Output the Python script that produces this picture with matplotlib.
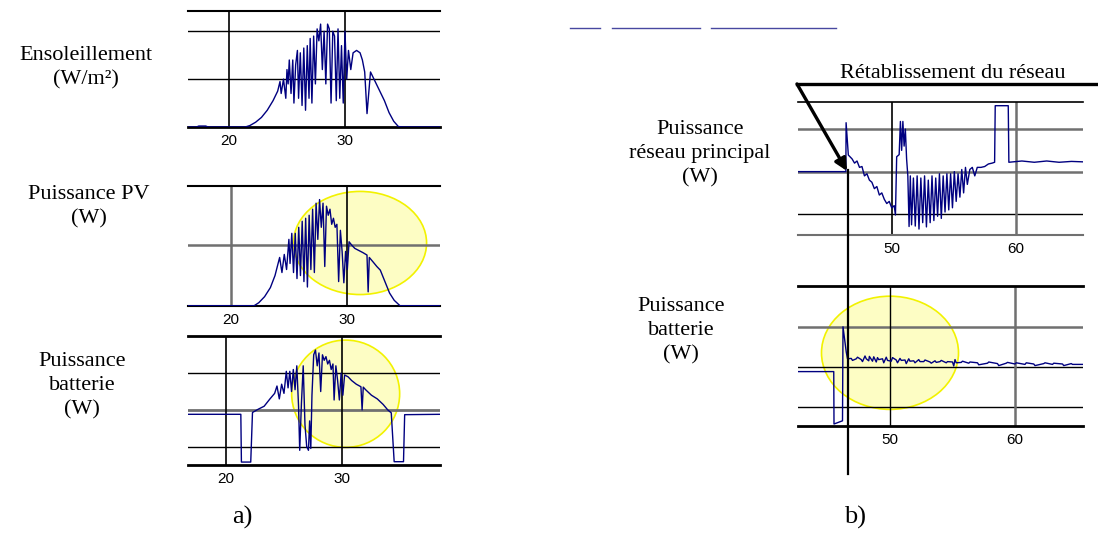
import numpy as np
import matplotlib
matplotlib.use('Agg')
import matplotlib.pyplot as plt
from matplotlib.patches import Ellipse, FancyArrowPatch
from matplotlib.lines import Line2D

W, H = 1098, 533

# ---- a) irradiance (grid units, 1 unit per grid line)
t_sun = [16.5, 17.2, 17.4, 18.0, 18.2, 21.4, 21.8, 22.3, 22.8, 23.3, 23.8, 24.2, 24.4, 24.5, 24.7,
         24.9, 25.0, 25.1, 25.2, 25.35, 25.5, 25.6, 25.75, 25.9, 26.0, 26.15, 26.3, 26.45, 26.6,
         26.75, 26.9, 27.0, 27.15, 27.3, 27.45, 27.6, 27.75, 27.9, 28.05, 28.2, 28.35, 28.5, 28.65,
         28.8, 28.95, 29.1, 29.25, 29.4, 29.55, 29.7, 29.85, 30.0, 30.15, 30.3, 30.5, 30.7, 31.0,
         31.3, 31.5, 31.7, 31.9, 32.2, 32.6, 33.0, 33.4, 33.8, 34.2, 34.6, 35.0, 38.2]
v_sun = [0, 0, 0.02, 0.02, 0, 0, 0.03, 0.1, 0.2, 0.35, 0.55, 0.75, 0.95, 0.7, 1.0,
         0.6, 1.2, 0.9, 1.4, 0.7, 1.4, 0.5, 1.3, 1.6, 0.6, 1.55, 0.45, 1.65, 0.35,
         1.7, 0.6, 1.85, 0.5, 1.9, 0.9, 2.05, 1.8, 2.15, 1.2, 2.0, 0.9, 2.15, 2.05,
         0.5, 2.0, 1.9, 0.55, 2.05, 0.6, 1.7, 0.5, 2.0, 1.0, 1.6, 1.2, 1.55, 1.6,
         1.55, 1.4, 1.15, 0.28, 1.15, 0.95, 0.75, 0.55, 0.3, 0.12, 0.01, 0, 0]

# ---- a) PV power
t_pv = [16.3, 22.0, 22.4, 22.9, 23.4, 23.8, 24.2, 24.4, 24.6, 24.8, 25.0, 25.1, 25.25, 25.4, 25.55,
        25.7, 25.85, 26.0, 26.15, 26.3, 26.45, 26.6, 26.75, 26.9, 27.05, 27.2, 27.35, 27.5, 27.65,
        27.8, 27.95, 28.1, 28.25, 28.4, 28.55, 28.7, 28.85, 29.0, 29.15, 29.3, 29.45, 29.6, 29.75,
        29.9, 30.05, 30.2, 30.45, 30.7, 31.0, 31.4, 31.75, 31.85, 31.95, 32.3, 32.6, 32.9, 33.3,
        33.7, 34.1, 34.6, 38.1]
v_pv = [0, 0, 0.05, 0.15, 0.3, 0.5, 0.8, 0.55, 0.85, 0.6, 1.1, 0.7, 1.2, 0.55, 1.2,
        0.45, 1.3, 0.5, 1.4, 0.4, 1.45, 0.31, 1.5, 0.6, 1.6, 0.55, 1.7, 1.1, 1.76,
        1.3, 1.7, 0.65, 1.65, 1.5, 1.6, 1.35, 1.45, 1.3, 1.35, 0.4, 1.25, 0.9, 0.38,
        0.9, 0.6, 1.06, 1.0, 0.95, 0.92, 0.88, 0.84, 0.23, 0.8, 0.72, 0.65, 0.59, 0.4,
        0.21, 0.09, 0, 0]

# ---- a) battery power (0 = grey grid line)
t_bat_a = [16.8, 21.3, 21.35, 22.15, 22.3, 22.8, 23.3, 23.8, 24.2, 24.4, 24.6, 24.8, 25.0, 25.2,
           25.35, 25.5, 25.65, 25.8, 25.95, 26.1, 26.25, 26.35, 26.5, 26.65, 26.8, 26.95, 27.1,
           27.2, 27.3, 27.4, 27.55, 27.7, 27.85, 28.0, 28.15, 28.3, 28.45, 28.6, 28.75, 28.9,
           29.05, 29.2, 29.3, 29.45, 29.6, 29.75, 29.9, 30.05, 30.2, 30.5, 30.8, 31.2, 31.6,
           31.7, 31.8, 32.0, 32.5, 33.0, 33.5, 33.9, 34.2, 34.45, 35.25, 35.35, 38.4]
v_bat_a = [-0.12, -0.12, -1.42, -1.42, -0.07, 0.02, 0.1, 0.3, 0.45, 0.65, 0.3, 0.7, 0.45, 1.05,
           0.6, 1.05, 0.5, 1.1, 0.55, 1.2, 0.1, -1.1, 0.2, 1.2, -0.4, -1.0, -1.1,
           -0.3, -1.05, 0.4, 1.5, 1.63, 1.2, 1.55, 0.5, 1.5, 1.35, 1.45, 1.25, 1.35,
           1.1, 1.25, 0.27, 1.2, 0.8, 0.27, 1.0, 0.4, 0.95, 0.9, 0.8, 0.7, 0.63,
           0.0, 0.62, 0.55, 0.4, 0.3, 0.15, 0.0, -0.08, -1.41, -1.41, -0.13, -0.12]

# ---- b) main grid power
t_grid = [42.4, 46.3, 46.32, 46.5, 46.8, 47.0, 47.2, 47.4, 47.6, 47.8, 48.0, 48.2, 48.4, 48.6,
          48.8, 49.0, 49.2, 49.4, 49.6, 49.8, 50.0, 50.2, 50.3, 50.4, 50.6, 50.7, 50.8, 50.9,
          51.0, 51.1, 51.2, 51.3, 51.4, 51.5, 51.6, 51.75, 51.9, 52.05, 52.2, 52.35, 52.5,
          52.65, 52.8, 52.95, 53.1, 53.25, 53.4, 53.55, 53.7, 53.85, 54.0, 54.15, 54.3, 54.45,
          54.6, 54.75, 54.9, 55.05, 55.2, 55.35, 55.5, 55.65, 55.8, 55.95, 56.1, 56.3, 56.5,
          56.7, 56.9, 57.2, 57.5, 57.8, 58.1, 58.3, 58.35, 59.4, 59.45, 60.5, 61.5, 62.5, 63.5,
          64.5, 65.4]
v_grid = [0, 0, 1.15, 0.39, 0.3, 0.2, 0.25, 0.1, 0.12, -0.1, -0.05, -0.2, -0.25, -0.4,
          -0.35, -0.55, -0.5, -0.65, -0.75, -0.7, -0.85, -0.8, -1.02, 0.35, 0.4, 1.18, 0.5, 1.18,
          0.6, 1.0, 0.3, -0.1, -1.29, -0.1, -1.25, -0.15, -1.28, -0.1, -1.35, -0.15, -1.2,
          -0.1, -1.3, -0.2, -1.2, -0.1, -1.15, -0.15, -1.05, -0.05, -1.1, -0.1, -0.95, -0.05,
          -0.9, -0.05, -0.85, 0.0, -0.7, -0.05, -0.6, 0.05, -0.5, 0.1, -0.3, 0.05, 0.1,
          -0.1, 0.1, 0.1, 0.12, 0.18, 0.2, 0.22, 1.55, 1.55, 0.22, 0.25, 0.22, 0.25, 0.22,
          0.24, 0.23]

# ---- b) battery power
t_bat_b = [42.6, 45.5, 45.52, 46.2, 46.24, 46.5, 46.6, 46.9, 47.0, 47.3, 47.4, 47.7, 47.8, 48.0,
           48.1, 48.3, 48.35, 48.6, 48.7, 48.9, 49.0, 49.1, 49.4, 49.5, 49.7, 49.8, 50.1, 50.2,
           50.5, 50.6, 50.8, 50.9, 51.2, 51.3, 51.5, 51.6, 51.9, 52.0, 52.3, 52.4, 52.7, 52.8,
           53.2, 53.3, 53.6, 53.7, 54.0, 54.1, 54.5, 54.6, 55.0, 55.1, 55.2, 55.3, 55.7, 55.8,
           56.3, 56.4, 57.0, 57.1, 57.8, 57.9, 58.6, 58.7, 59.3, 59.4, 60.0, 60.1, 60.8, 60.9,
           61.5, 61.6, 62.3, 62.4, 63.0, 63.1, 63.8, 63.9, 64.5, 64.6, 65.4]
v_bat_b = [-0.12, -0.12, -1.43, -1.35, 1.0, 0.37, 0.2, 0.21, 0.16, 0.2, 0.24, 0.18, 0.13, 0.27,
           0.2, 0.15, 0.26, 0.14, 0.25, 0.12, 0.23, 0.18, 0.2, 0.1, 0.24, 0.16, 0.14, 0.23,
           0.17, 0.1, 0.21, 0.16, 0.17, 0.08, 0.2, 0.14, 0.15, 0.1, 0.18, 0.13, 0.13, 0.17,
           0.12, 0.09, 0.15, 0.11, 0.13, 0.16, 0.1, 0.13, 0.12, 0.02, 0.18, 0.1, 0.11, 0.14,
           0.09, 0.12, 0.1, 0.05, 0.09, 0.12, 0.08, 0.03, 0.09, 0.11, 0.07, 0.1, 0.06, 0.1,
           0.07, 0.03, 0.08, 0.1, 0.06, 0.09, 0.07, 0.03, 0.08, 0.06, 0.06]

xticks_a = [20, 30]
xticks_b = [50, 60]

NAVY = '#000080'
GREY = '#707070'
YEL_FACE = '#fdfdc4'
YEL_EDGE = '#f2f200'

fig = plt.figure(figsize=(W / 100, H / 100), dpi=100)


def rect(l, t, r, b):
    return [l / W, 1 - b / H, (r - l) / W, (b - t) / H]


def panel(r, xlim, ylim, hl, vl, top, bot):
    ax = fig.add_axes(rect(*r))
    ax.set_xlim(*xlim)
    ax.set_ylim(*ylim)
    for s in ['left', 'right']:
        ax.spines[s].set_visible(False)
    ax.spines['top'].set_color(top[0])
    ax.spines['top'].set_linewidth(top[1])
    ax.spines['bottom'].set_color(bot[0])
    ax.spines['bottom'].set_linewidth(bot[1])
    for y, c, lw in hl:
        ax.axhline(y, color=c, lw=lw, zorder=2)
    for x, c, lw in vl:
        ax.axvline(x, color=c, lw=lw, zorder=2)
    ax.set_yticks([])
    ax.set_xticks([v[0] for v in vl])
    ax.tick_params(axis='x', length=0, pad=5)
    for lab in ax.get_xticklabels():
        lab.set_fontfamily('Liberation Sans')
        lab.set_fontsize(11)
    return ax


# a) panels
ax1 = panel((188, 10.7, 440, 127), (16.47, 38.19), (0, 2.43),
            [(1, 'black', 1.0), (2, 'black', 1.0)],
            [(xticks_a[0], 'black', 1.2), (xticks_a[1], 'black', 1.2)],
            ('black', 1.5), ('black', 2.0))
ax1.plot(t_sun, v_sun, color=NAVY, lw=1.0, zorder=4)

ax2 = panel((188, 185.7, 440, 305.7), (16.28, 38.06), (0, 1.99),
            [(1, GREY, 1.8)],
            [(xticks_a[0], GREY, 1.8), (xticks_a[1], 'black', 1.2)],
            ('black', 1.5), ('black', 1.5))
ax2.add_patch(Ellipse((31.15, 1.04), 11.5, 1.71, facecolor=YEL_FACE, edgecolor=YEL_EDGE, lw=1.2, zorder=1))
ax2.plot(t_pv, v_pv, color=NAVY, lw=1.0, zorder=4)

ax3 = panel((188, 335.7, 440, 465), (16.77, 38.38), (-1.5, 2.02),
            [(1, 'black', 1.0), (0, GREY, 2.0), (-1, 'black', 1.0)],
            [(xticks_a[0], 'black', 1.2), (xticks_a[1], 'black', 1.2)],
            ('black', 2.0), ('black', 2.0))
ax3.add_patch(Ellipse((30.29, 0.44), 9.26, 2.92, facecolor=YEL_FACE, edgecolor=YEL_EDGE, lw=1.2, zorder=1))
ax3.plot(t_bat_a, v_bat_a, color=NAVY, lw=1.0, zorder=4)

# b) panels
ax4 = panel((798, 102.3, 1083, 235), (42.44, 65.43), (-1.49, 1.63),
            [(1, GREY, 1.8), (0, GREY, 1.8), (-1, 'black', 1.0)],
            [(xticks_b[0], 'black', 1.2), (xticks_b[1], GREY, 1.8)],
            ('black', 1.2), (GREY, 1.5))
ax4.plot(t_grid, v_grid, color=NAVY, lw=1.0, zorder=4)

ax5 = panel((798, 286, 1083, 426), (42.64, 65.44), (-1.48, 2.02),
            [(1, GREY, 1.8), (0, 'black', 1.0), (-1, 'black', 1.0)],
            [(xticks_b[0], 'black', 1.0), (xticks_b[1], GREY, 1.8)],
            ('black', 2.0), ('black', 2.0))
ax5.add_patch(Ellipse((50.0, 0.35), 10.96, 2.83, facecolor=YEL_FACE, edgecolor=YEL_EDGE, lw=1.2, zorder=1))
ax5.plot(t_bat_b, v_bat_b, color=NAVY, lw=1.0, zorder=4)


def fx(p):
    return p / W


def fy(p):
    return 1 - p / H


# labels
serif = dict(fontfamily='Liberation Serif', fontsize=16, ha='center', va='center',
             linespacing=1.35, transform=fig.transFigure)
fig.text(fx(86), fy(68), 'Ensoleillement\n(W/m²)', **serif)
fig.text(fx(89), fy(207), 'Puissance PV\n(W)', **serif)
fig.text(fx(82), fy(386), 'Puissance\nbatterie\n(W)', **serif)
fig.text(fx(700), fy(154), 'Puissance\nréseau principal\n(W)', **serif)
fig.text(fx(681), fy(331), 'Puissance\nbatterie\n(W)', **serif)
fig.text(fx(953), fy(73), 'Rétablissement du réseau', **serif)
fig.text(fx(242), fy(517), 'a)', fontfamily='Liberation Serif', fontsize=19, ha='center', va='center')
fig.text(fx(855), fy(517), 'b)', fontfamily='Liberation Serif', fontsize=19, ha='center', va='center')

# reconnection annotation
fig.add_artist(Line2D([fx(797), fx(1098)], [fy(84), fy(84)], color='black', lw=2.4))
fig.add_artist(Line2D([fx(848), fx(848)], [fy(170), fy(474)], color='black', lw=1.6, zorder=5))
fig.add_artist(FancyArrowPatch((fx(797), fy(84)), (fx(847), fy(171)), transform=fig.transFigure,
                               arrowstyle='-|>', mutation_scale=18, color='black', lw=2.4,
                               shrinkA=0, shrinkB=0))

# leftover trace at top of b)
for a, b in [(570, 600), (612, 700), (711, 836)]:
    fig.add_artist(Line2D([fx(a), fx(b)], [fy(28), fy(28)], color='#4848a0', lw=1.0))

fig.savefig('out.png', dpi=100, facecolor='white')
